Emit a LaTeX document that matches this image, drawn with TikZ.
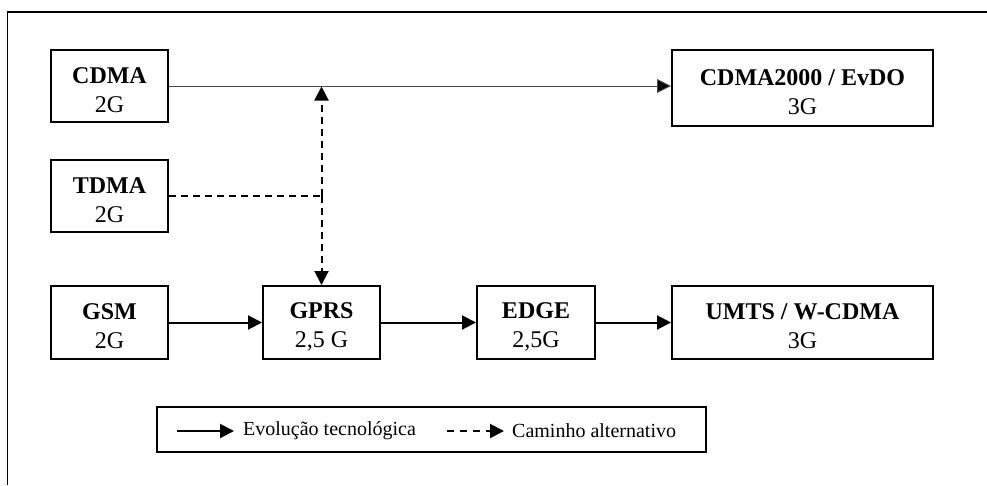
\documentclass[tikz,border=0pt]{standalone}
\usepackage{fontspec}
\setmainfont{Liberation Serif}
\usetikzlibrary{arrows.meta,calc}

% strut that lowers the two-line labels inside their boxes
\newcommand{\labelstrut}{\rule{0pt}{24pt}}

\tikzset{
  tech/.style={draw, line width=2pt, inner sep=0pt, align=center,
    font=\fontsize{24}{29}\selectfont},
  evol/.style={line width=2pt, -{Triangle[length=14pt,width=14pt]}},
  thin evol/.style={line width=1pt, draw=black!70, -{Triangle[length=14pt,width=14pt,fill=black]}},
  alt/.style={line width=2pt, dash pattern=on 7pt off 5pt},
  tip/.style={-{Triangle[length=14pt,width=14pt]}},
  legendtext/.style={font=\fontsize{20}{24}\selectfont, anchor=west, inner sep=0pt},
}

\begin{document}
\begin{tikzpicture}[x=1pt,y=-1pt]
\useasboundingbox (0,0) rectangle (987,485);

% open frame along the left and top edges
\draw[line width=1.3pt] (7.5,485) -- (7.5,12) -- (987,12);

% technology boxes
\node[tech, minimum width=117pt, minimum height=72pt] (cdma) at (109.5,86) {\labelstrut\textbf{CDMA}\\2G};
\node[tech, minimum width=117pt, minimum height=72pt] (tdma) at (109.5,196) {\labelstrut\textbf{TDMA}\\2G};
\node[tech, minimum width=117pt, minimum height=73pt] (gsm)  at (109.5,322.5) {\labelstrut\textbf{GSM}\\2G};
\node[tech, minimum width=117pt, minimum height=73pt] (gprs) at (321.5,322.5) {\labelstrut\textbf{GPRS}\\2,5 G};
\node[tech, minimum width=118pt, minimum height=73pt] (edge) at (536,322.5) {\labelstrut\textbf{EDGE}\\2,5G};
\node[tech, minimum width=261pt, minimum height=73pt] (umts) at (802.5,322.5) {\labelstrut\textbf{UMTS / W-CDMA}\\3G};
\node[tech, minimum width=261pt, minimum height=76pt] (c2k)  at (802.5,88) {\labelstrut\textbf{CDMA2000 / EvDO}\\3G};

% evolution paths
\draw[thin evol] (cdma.east) -- (cdma.east -| c2k.west);
\draw[evol] (gsm.east) -- (gprs.west);
\draw[evol] (gprs.east) -- (edge.west);
\draw[evol] (edge.east) -- (umts.west);

% alternative path
\coordinate (top) at (gprs.north |- cdma.east);
\coordinate (mid) at (gprs.north |- tdma.east);
\draw[alt] (tdma.east) -- ($(mid)+(1,0)$);
\draw[alt, tip] (mid) -- ($(top)+(0,0.5)$);
\draw[alt, tip] (mid) -- (gprs.north);

% legend
\node[draw, line width=2pt, minimum width=549pt, minimum height=45pt] (legend) at (431.5,429.5) {};
\coordinate (l1a) at (177,431);
\coordinate (l1b) at (234,431);
\coordinate (l2a) at (447,431);
\coordinate (l2b) at (504,431);
\draw[line width=2pt, -{Triangle[length=14pt,width=14pt]}] (l1a) -- (l1b);
\node[legendtext] (leg1) at (243,431) {Evolução tecnológica};
\draw[line width=2pt, dash pattern=on 7pt off 6pt, -{Triangle[length=14pt,width=14pt]}] (l2a) -- (l2b);
\node[legendtext] (leg2) at (512,431) {Caminho alternativo};
\end{tikzpicture}
\end{document}
